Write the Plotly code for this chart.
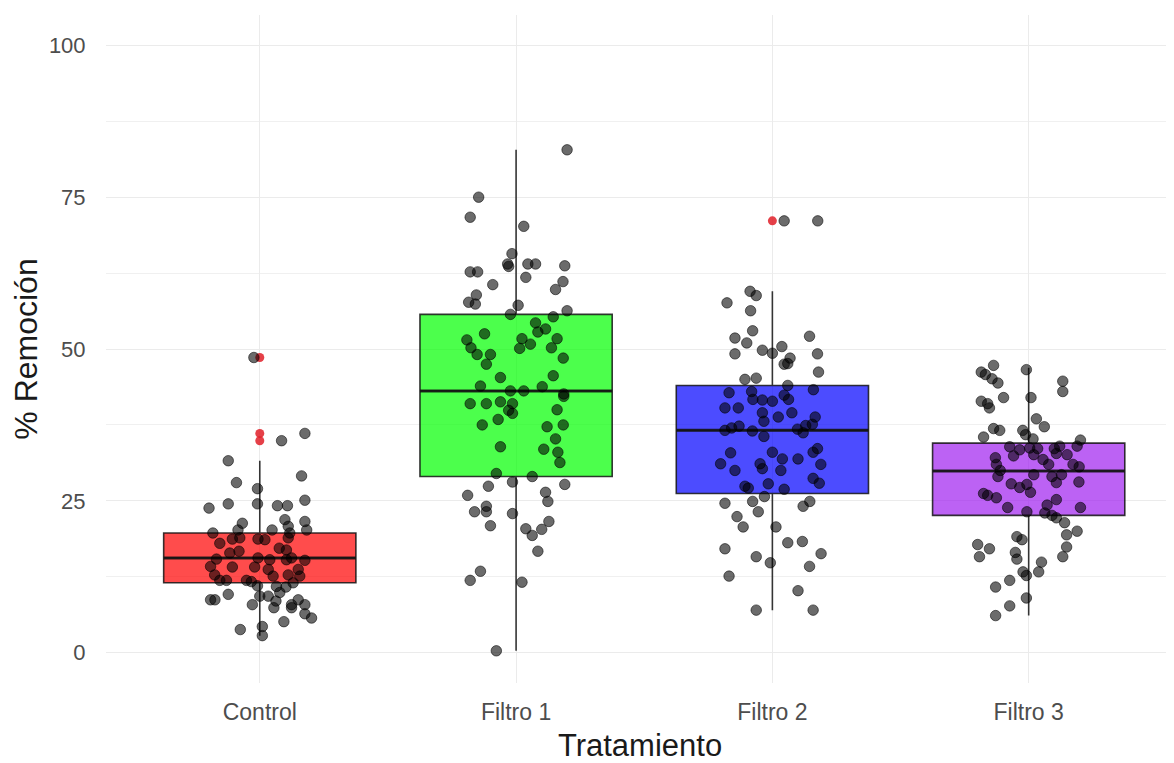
import plotly.graph_objects as go

# ---------------- data ----------------
categories = ["Control", "Filtro 1", "Filtro 2", "Filtro 3"]

# box statistics per group
box_lower = [2.8, 0.3, 7.0, 6.1]
box_q1 = [11.5, 29.0, 26.2, 22.6]
box_median = [15.6, 43.1, 36.6, 29.9]
box_q3 = [19.7, 55.7, 44.0, 34.5]
box_upper = [31.6, 82.8, 59.5, 46.9]

# outliers (group index, value)
outlier_group = [0, 0, 0, 2]
outlier_value = [48.6, 36.1, 34.9, 71.1]

control_y = [48.6, 36.1, 34.9, 31.6, 29.1, 28.0, 27.0, 25.1, 23.8, 24.5, 24.5, 24.2, 24.2,
             21.9, 21.6, 21.3, 20.8, 20.2, 20.2, 20.2, 19.7, 19.7, 18.7, 18.9, 18.7, 18.6,
             18.9, 18.0, 17.2, 16.4, 16.7, 16.9, 15.4, 15.6, 15.3, 15.3, 15.6, 15.2, 14.2,
             14.1, 14.1, 13.7, 13.7, 12.8, 12.6, 12.8, 12.6, 11.9, 11.9, 11.9, 11.7, 11.5,
             11.0, 10.9, 10.8, 9.9, 9.6, 9.3, 9.3, 8.7, 8.7, 8.5, 8.7, 7.9, 7.9, 7.9, 7.4,
             7.4, 6.4, 5.7, 5.1, 4.3, 3.8, 2.8]
control_jitter = [-0.023, 0.176, 0.085, -0.123, 0.163, -0.091, -0.009, 0.176, -0.198, -0.123,
                  -0.009, 0.069, 0.108, 0.098, 0.176, -0.068, 0.111, -0.085, 0.048, 0.183,
                  0.117, -0.183, -0.107, -0.078, -0.007, 0.020, 0.111, -0.156, 0.076, -0.117,
                  -0.081, 0.104, -0.169, -0.007, 0.039, 0.104, 0.124, 0.176, -0.192, -0.107,
                  -0.020, 0.033, 0.150, -0.176, 0.052, 0.111, 0.156, -0.156, -0.130, -0.052,
                  -0.033, 0.130, -0.009, 0.065, 0.102, 0.078, -0.123, 0.000, 0.033, -0.192,
                  -0.175, 0.063, 0.150, -0.029, 0.124, 0.176, 0.055, 0.124, 0.176, 0.202,
                  0.094, 0.010, -0.076, 0.010]

filtro1_y = [82.8, 75.0, 71.7, 70.2, 65.7, 64.0, 63.6, 64.0, 64.0, 62.7, 62.7, 63.7, 61.8,
             61.1, 60.6, 59.8, 58.9, 57.7, 57.4, 57.2, 56.3, 55.7, 55.3, 54.3, 53.3, 52.8,
             52.5, 51.5, 51.7, 51.7, 50.2, 50.8, 50.1, 50.2, 49.1, 49.1, 47.5, 48.5, 45.3,
             45.6, 43.9, 43.1, 43.1, 43.8, 42.6,
             42.2, 41.0, 41.0, 41.3, 41.0, 39.9, 39.4, 40.0, 38.4, 37.5, 37.2, 37.5, 35.2,
             33.9, 33.5, 33.0, 31.3, 29.5, 29.0, 28.1, 27.4, 27.7, 26.4, 25.9, 24.9, 24.1,
             23.2, 23.2, 22.9, 21.6, 20.9, 20.4, 19.3, 20.3, 16.7, 13.4, 11.9, 11.6, 0.3]
filtro1_jitter = [0.199, -0.146, -0.179, 0.030, -0.016, -0.033, -0.029, 0.046, 0.076, -0.179,
                  -0.150, 0.190, 0.038, 0.183, -0.091, 0.154, -0.155, -0.185, -0.159, 0.008,
                  0.199, -0.022, 0.145, 0.076, 0.115, 0.085, -0.123, -0.192, 0.023, 0.160,
                  -0.176, 0.056, 0.014, 0.138, -0.152, -0.100, -0.116, 0.184, -0.061, 0.145,
                  -0.139, -0.022, 0.030, 0.102, 0.186,
                  0.186, -0.179, -0.116, -0.061, -0.014, -0.029, -0.014, 0.160, -0.070,
                  -0.132, 0.121, 0.184, 0.154, -0.061, 0.108, 0.163, 0.171, -0.077, 0.063,
                  -0.014, -0.108, 0.190, 0.115, -0.189, 0.124, -0.116, -0.162, -0.116,
                  -0.014, 0.128, -0.100, 0.038, 0.063, 0.100, 0.085, -0.139, -0.179, 0.023,
                  -0.077]

filtro2_y = [71.1, 71.1, 59.5, 58.8, 57.6, 56.3, 53.0, 51.8, 51.0, 52.1, 50.4, 49.8, 49.3,
             49.2, 48.5, 49.2, 47.5, 47.6, 46.2, 45.0, 45.2, 44.0, 42.8, 43.0, 43.3, 42.4,
             41.7, 41.6, 41.4, 41.7, 40.3, 40.3, 39.5, 39.5,
             38.8, 38.8, 38.1, 36.6, 37.0, 37.3, 36.5, 35.6, 36.8, 37.4, 37.6, 36.2, 32.9,
             33.0, 33.0, 33.6, 31.1, 30.0, 31.1, 30.3, 31.9, 31.9, 30.0, 31.0, 27.4, 27.1,
             27.8, 26.9, 28.7, 27.9, 25.7, 24.6, 24.9, 23.2, 24.1, 24.9, 22.4, 20.7, 20.7,
             17.1, 18.1, 18.3, 16.3, 15.8, 14.8, 14.2, 12.6, 10.2, 7.0, 7.0]
filtro2_jitter = [0.046, 0.177, -0.087, -0.063, -0.177, -0.085, -0.077, -0.146, -0.100, 0.145,
                  0.037, -0.039, 0.000, -0.146, 0.069, 0.176, 0.046, 0.060, 0.180, -0.107,
                  -0.063, 0.060, -0.169, -0.081, 0.160, 0.046, -0.076, -0.039, 0.000, 0.063,
                  -0.185, -0.133, -0.039, 0.076,
                  0.023, 0.167, -0.033, -0.185, -0.159, -0.130, -0.078, -0.033, 0.098,
                  0.130, 0.156, 0.120, -0.163, 0.000, 0.159, 0.176, -0.202, -0.146, -0.048,
                  -0.039, 0.039, 0.100, 0.033, 0.189, -0.107, -0.094, -0.016, 0.046, 0.159,
                  0.183, -0.031, -0.185, -0.077, -0.055, 0.120, 0.146, -0.138, -0.114,
                  0.014, -0.185, 0.060, 0.117, 0.190, -0.063, -0.008, 0.145, -0.169, 0.100,
                  -0.063, 0.159]

filtro3_y = [47.3, 46.6, 46.2, 45.8, 45.1, 44.4, 44.7, 43.0, 42.0, 42.0, 41.4, 41.0, 40.3,
             38.5, 37.2, 36.9, 36.6, 36.6, 35.9, 35.5, 35.2, 35.0, 33.9, 33.4, 33.7, 33.6,
             33.6, 34.0, 34.0, 32.4, 32.6, 32.8, 32.6, 32.1, 31.8, 31.0, 31.0, 31.0, 30.6,
             30.0, 29.0, 29.3, 29.0, 29.3, 28.0, 28.1, 27.8, 27.2, 27.7, 26.4, 26.2, 25.9,
             25.5, 25.2, 24.3, 23.9, 23.9, 23.2, 23.0, 22.6, 22.2, 21.4, 20.0, 19.4, 19.1,
             18.6, 17.8, 17.1, 17.4, 16.5, 15.8, 15.4, 15.8, 14.9, 13.3, 13.3, 12.7, 11.9,
             10.8, 9.0, 7.7, 6.1]
filtro3_jitter = [-0.137, -0.009, -0.185, -0.169, -0.143, -0.120, 0.133, 0.133, -0.098, 0.009,
                  -0.185, -0.160, -0.153, 0.030, 0.061, -0.137, -0.113, -0.023, -0.012,
                  -0.176, 0.017, 0.202, -0.074, -0.035, 0.004, 0.035, 0.100, 0.121, 0.189,
                  -0.059, 0.020, 0.108, 0.150, -0.130, 0.056, -0.126, 0.078, 0.173, 0.197,
                  -0.111, -0.120, 0.020, 0.091, 0.128, 0.108, 0.196, -0.068, -0.035, -0.007,
                  0.007, -0.176, -0.160, -0.126, 0.108, 0.072, -0.082, 0.202, -0.007, 0.063,
                  0.091, 0.108, 0.140, 0.189, 0.148, -0.046, -0.026, -0.199, -0.153, 0.148,
                  -0.052, -0.192, -0.046, 0.133, 0.050, 0.039, -0.022, -0.009, -0.074,
                  -0.129, -0.009, -0.074, -0.129]

group_values = [control_y, filtro1_y, filtro2_y, filtro3_y]
group_jitter = [control_jitter, filtro1_jitter, filtro2_jitter, filtro3_jitter]

# ---------------- styles ----------------
fills = ["rgba(255,0,0,0.7)", "rgba(0,255,0,0.7)", "rgba(0,0,255,0.7)", "rgba(160,32,240,0.7)"]
BOX_W = 0.75
FONT = "Liberation Sans, Arial, sans-serif"

fig = go.Figure()

for i, cat in enumerate(categories):
    fig.add_trace(go.Box(
        x=[i], q1=[box_q1[i]], median=[box_median[i]], q3=[box_q3[i]],
        lowerfence=[box_lower[i]], upperfence=[box_upper[i]],
        width=BOX_W, whiskerwidth=0, boxpoints=False,
        fillcolor=fills[i], line=dict(color="rgba(20,20,20,0.85)", width=1.6),
        name=cat, showlegend=False, hoverinfo="skip",
    ))
    # thicker median line (ggplot style)
    fig.add_trace(go.Scatter(
        x=[i - BOX_W / 2, i + BOX_W / 2], y=[box_median[i], box_median[i]],
        mode="lines", line=dict(color="rgba(20,20,20,0.85)", width=3),
        showlegend=False, hoverinfo="skip",
    ))

# outliers
fig.add_trace(go.Scatter(
    x=outlier_group, y=outlier_value, mode="markers",
    marker=dict(color="rgba(225,30,40,0.85)", size=9, line=dict(width=0)),
    showlegend=False, hoverinfo="skip",
))

# jittered points
for i in range(len(categories)):
    fig.add_trace(go.Scatter(
        x=[i + d for d in group_jitter[i]], y=group_values[i], mode="markers",
        marker=dict(color="rgba(0,0,0,0.58)", size=10.5,
                    line=dict(color="rgba(0,0,0,0.55)", width=1)),
        showlegend=False, hoverinfo="skip",
    ))

# the page shows the figure offset by the 8px body margin; margins compensate
fig.update_layout(
    width=1174, height=763,
    margin=dict(l=98, r=8, t=7, b=88),
    paper_bgcolor="white", plot_bgcolor="white",
    font=dict(family=FONT),
    xaxis=dict(
        range=[-0.6, 3.567], tickmode="array", tickvals=list(range(len(categories))),
        ticktext=categories, showgrid=True, gridcolor="#EBEBEB", gridwidth=1,
        zeroline=False, showline=False, ticks="outside", ticklen=8,
        tickcolor="rgba(0,0,0,0)", tickfont=dict(size=23, color="#4D4D4D", family=FONT),
        title=dict(text="Tratamiento", font=dict(size=31, color="#1A1A1A", family=FONT),
                   standoff=10),
        automargin=False,
    ),
    yaxis=dict(
        range=[-5, 105], tickmode="array", tickvals=[0, 25, 50, 75, 100],
        showgrid=True, gridcolor="#EBEBEB", gridwidth=1, zeroline=False, showline=False,
        ticks="outside", ticklen=15, tickcolor="rgba(0,0,0,0)",
        tickfont=dict(size=22, color="#4D4D4D", family=FONT),
        minor=dict(tickvals=[12.5, 37.5, 62.5, 87.5], showgrid=True,
                   gridcolor="#F0F0F0", gridwidth=1, ticks=""),
        title=dict(text="% Remoción", font=dict(size=32, color="#1A1A1A", family=FONT),
                   standoff=7),
        automargin=False,
    ),
)

fig.write_html("out.html")
